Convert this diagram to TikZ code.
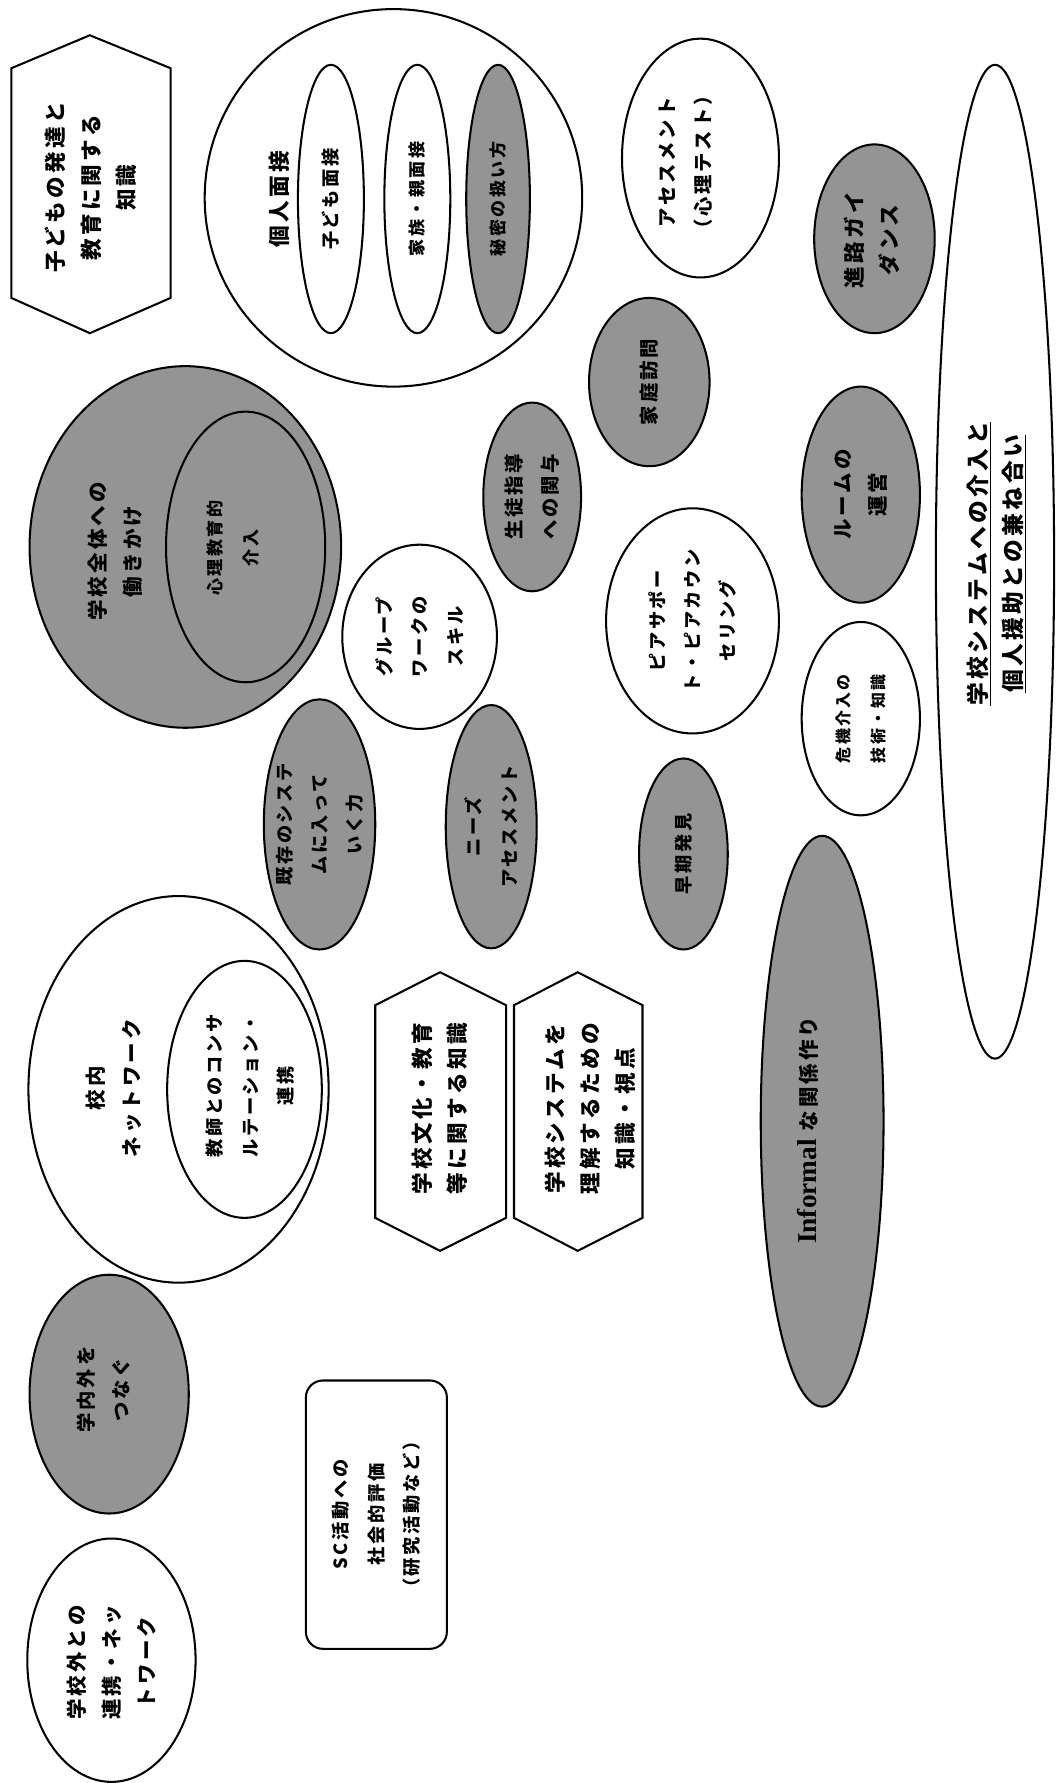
\documentclass[tikz,border=0pt]{standalone}
\usepackage{fontspec}
\setmainfont{Noto Sans CJK JP}
\newfontfamily\serifbf{Liberation Serif}
\usetikzlibrary{shapes.geometric}
\begin{document}
\begin{tikzpicture}[x=1pt,y=-1pt,
  outl/.style={line width=1.8pt,line join=miter},
  wov/.style={ellipse,draw,outl,fill=white,inner sep=0pt},
  gov/.style={ellipse,draw,outl,fill=black!42,inner sep=0pt},
  lab/.style={rotate=90,align=center,inner sep=0pt,font=\bfseries\fontsize{#1}{31}\selectfont\addfontfeatures{LetterSpace=15}},
  lab/.default=17]
\path[use as bounding box] (0,0) rectangle (928,1568);

% hexagon: child development knowledge
\coordinate (hA1) at (79,31);
\coordinate (hA2) at (150,60);
\coordinate (hA3) at (150,262);
\coordinate (hA4) at (79,293);
\coordinate (hA5) at (10,262);
\coordinate (hA6) at (10,60);
\draw[outl,fill=white] (hA1) -- (hA2) -- (hA3) -- (hA4) -- (hA5) -- (hA6) -- cycle;
\node[lab=19] (t-hA) at (80,165) {子どもの発達と\\教育に関する\\知識};

% individual interview
\node[wov,minimum width=332,minimum height=332] (c-kojin) at (346,174) {};
\node[lab=19] (t-kojin) at (246,175) {個人面接};
\node[wov,minimum width=58,minimum height=236] (e-kodomo) at (291,175) {};
\node[lab=16] (t-kodomo) at (e-kodomo) {子ども面接};
\node[wov,minimum width=58,minimum height=236] (e-kazoku) at (367,175) {};
\node[lab=15] (t-kazoku) at (e-kazoku) {家族・親面接};
\node[gov,minimum width=56,minimum height=236] (e-himitsu) at (438,175) {};
\node[lab=15] (t-himitsu) at (e-himitsu) {秘密の扱い方};

% assessment
\node[wov,minimum width=138,minimum height=210] (e-assess) at (616,139) {};
\node[lab=17] (t-assess) at (603,143) {アセスメント\\（心理テスト）};

% career guidance
\node[gov,minimum width=106,minimum height=166] (e-shinro) at (769,210) {};
\node[lab=19] (t-shinro) at (767,211) {進路ガイ\\ダンス};

% thin ellipse
\node[wov,minimum width=104,minimum height=874] (e-system) at (875,494) {};
\node[lab=20] (t-system) at (876,496) {\underline{学校システムへの介入と}\\\underline{個人援助との兼ね合い}};

% home visit
\node[gov,minimum width=106,minimum height=148] (e-katei) at (571,336) {};
\node[lab=17] (t-katei) at (e-katei) {家庭訪問};

% room
\node[gov,minimum width=104,minimum height=190] (e-room) at (757,435) {};
\node[lab=18] (t-room) at (e-room) {ルームの\\運営};

% student guidance
\node[gov,minimum width=86,minimum height=166] (e-seito) at (468,437) {};
\node[lab=17] (t-seito) at (e-seito) {生徒指導\\への関与};

% peer support
\node[wov,minimum width=152,minimum height=198] (e-peer) at (609,546) {};
\node[lab=16] (t-peer) at (e-peer) {ピアサポー\\ト・ピアカウン\\セリング};

% crisis
\node[wov,minimum width=104,minimum height=170] (e-kiki) at (757,632) {};
\node[lab=14] (t-kiki) at (e-kiki) {危機介入の\\技術・知識};

% group work
\node[wov,minimum width=136,minimum height=162] (e-group) at (369,560) {};
\node[lab=16] (t-group) at (e-group) {グループ\\ワークの\\スキル};

% whole school
\node[gov,minimum width=274,minimum height=318] (e-zentai) at (163,481) {};
\node[lab=18] (t-zentai) at (101,485) {学校全体への\\働きかけ};
\node[gov,minimum width=140,minimum height=238] (e-shinri) at (216,481) {};
\node[lab=15] (t-shinri) at (205,482) {心理教育的\\介入};

% existing system
\node[gov,minimum width=98,minimum height=220] (e-kizon) at (281,725) {};
\node[lab=16] (t-kizon) at (e-kizon) {既存のシステ\\ムに入って\\いく力};

% needs assessment
\node[gov,minimum width=80,minimum height=214] (e-needs) at (432,727) {};
\node[lab=16] (t-needs) at (e-needs) {ニーズ\\アセスメント};

% early detection
\node[gov,minimum width=78,minimum height=168] (e-souki) at (601,751) {};
\node[lab=16] (t-souki) at (e-souki) {早期発見};

% informal
\node[gov,minimum width=108,minimum height=502] (e-informal) at (723,986) {};
\node[lab=18] (t-informal) at (710,994) {{\serifbf\bfseries\fontsize{24}{31}\selectfont Informal} な関係作り};

% school network
\node[wov,minimum width=264,minimum height=340] (c-kounai) at (157,958) {};
\node[lab=18] (t-kounai) at (100,957) {校内\\ネットワーク};
\node[wov,minimum width=136,minimum height=226] (e-kyoushi) at (215,958) {};
\node[lab=16] (t-kyoushi) at (220,955) {教師とのコンサ\\ルテーション・\\連携};

% hexagon: school culture
\coordinate (hB1) at (387,855);
\coordinate (hB2) at (445,884);
\coordinate (hB3) at (445,1071);
\coordinate (hB4) at (387,1100);
\coordinate (hB5) at (330,1071);
\coordinate (hB6) at (330,884);
\draw[outl,fill=white] (hB1) -- (hB2) -- (hB3) -- (hB4) -- (hB5) -- (hB6) -- cycle;
\node[lab=19] (t-hB) at (387,975) {学校文化・教育\\等に関する知識};

% hexagon: understanding school system
\coordinate (hC1) at (508,855);
\coordinate (hC2) at (565,884);
\coordinate (hC3) at (565,1071);
\coordinate (hC4) at (508,1100);
\coordinate (hC5) at (452,1071);
\coordinate (hC6) at (452,884);
\draw[outl,fill=white] (hC1) -- (hC2) -- (hC3) -- (hC4) -- (hC5) -- (hC6) -- cycle;
\node[lab=19] (t-hC) at (519,975) {学校システムを\\理解するための\\知識・視点};

% connecting inside/outside
\node[gov,minimum width=140,minimum height=210] (e-gakunai) at (96,1226) {};
\node[lab=17] (t-gakunai) at (91,1222) {学内外を\\つなぐ};

% SC evaluation
\node[draw,outl,rounded corners=15pt,minimum width=124,minimum height=236,inner sep=0pt] (r-sc) at (331,1332) {};
\node[lab=16] (t-sc) at (r-sc) {SC活動への\\社会的評価\\（研究活動など）};

% outside network
\node[wov,minimum width=148,minimum height=214] (e-gaibu) at (98,1460) {};
\node[lab=18] (t-gaibu) at (98,1462) {学校外との\\連携・ネッ\\トワーク};
\end{tikzpicture}
\end{document}
